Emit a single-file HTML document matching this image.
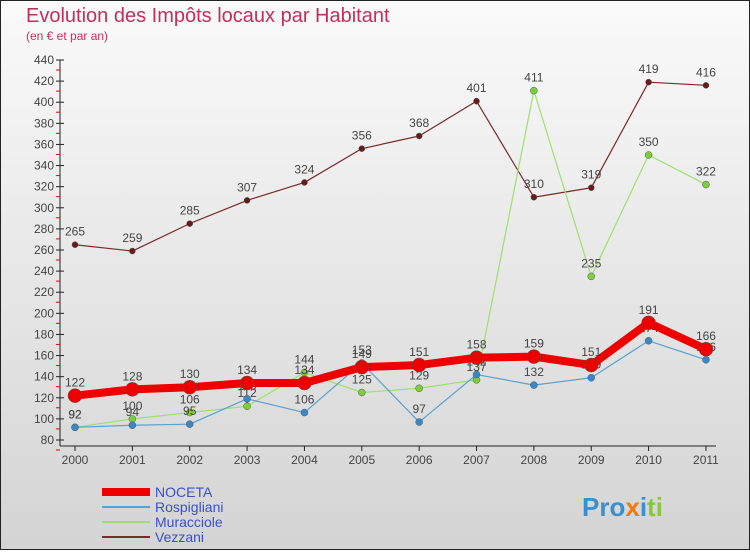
<!DOCTYPE html>
<html><head><meta charset="utf-8"><style>
body{margin:0;width:750px;height:550px;overflow:hidden;font-family:"Liberation Sans",sans-serif}
</style></head><body>
<svg width="750" height="550" xmlns="http://www.w3.org/2000/svg">
<defs><linearGradient id="bg" x1="0" y1="0" x2="0" y2="1"><stop offset="0" stop-color="#fafafa"/><stop offset="1" stop-color="#d4d4d4"/></linearGradient></defs>
<rect x="0.5" y="0.5" width="749" height="549" fill="url(#bg)" stroke="#222"/>
<text x="26" y="22" font-size="20" fill="#c0305a">Evolution des Impôts locaux par Habitant</text>
<text x="26" y="40" font-size="12" fill="#c0305a">(en € et par an)</text>
<g id="axes"></g><g id="series"></g><g id="legend"></g>
<text x="582" y="516" font-size="26" font-weight="bold"><tspan fill="#3a8fd0">Pro</tspan><tspan fill="#f07a10">x</tspan><tspan fill="#3a8fd0">i</tspan><tspan fill="#8cc63f">ti</tspan></text>
</svg>
<script>
const years=["2000","2001","2002","2003","2004","2005","2006","2007","2008","2009","2010","2011"];
const yTicks=[80,100,120,140,160,180,200,220,240,260,280,300,320,340,360,380,400,420,440];
const noceta=[122,128,130,134,134,149,151,158,159,151,191,166];
const rospigliani=[92,94,95,119,106,153,97,142,132,139,174,156];
const muracciole=[92,100,106,112,144,125,129,137,411,235,350,322];
const vezzani=[265,259,285,307,324,356,368,401,310,319,419,416];
const NS="http://www.w3.org/2000/svg";
const x=i=>75+i*57.36, y=v=>440-(v-80)*380/360;
function mk(t,a,p){const e=document.createElementNS(NS,t);for(const k in a)e.setAttribute(k,a[k]);p.appendChild(e);return e;}
const ax=document.getElementById('axes');
const yl=mk('line',{x1:60,y1:60,x2:60,y2:446,stroke:'#222'},ax);


const xl=mk('line',{x1:60,y1:446,x2:716,y2:446,stroke:'#222'},ax);


yTicks.forEach(v=>{mk('line',{x1:56,y1:y(v),x2:64,y2:y(v),stroke:'#222'},ax);
mk('line',{x1:56,y1:y(v)+10,x2:60,y2:y(v)+10,stroke:'#e00'},ax);
const t=mk('text',{x:54,y:y(v)+4,'font-size':12,'text-anchor':'end',fill:'#444'},ax);t.textContent=v;

});
years.forEach((yr,i)=>{mk('line',{x1:x(i),y1:446,x2:x(i),y2:451,stroke:'#222'},ax);
const t=mk('text',{x:x(i),y:464,'font-size':12,'text-anchor':'middle',fill:'#444'},ax);t.textContent=yr;

});
const sg=document.getElementById('series');
function draw(d,col,w,r,name,dot){const g=mk('g',{},sg);


mk('polyline',{points:d.map((v,i)=>x(i)+','+y(v)).join(' '),fill:'none',stroke:col,'stroke-width':w,'stroke-linejoin':'round'},g);
d.forEach((v,i)=>{const c=mk('circle',{cx:x(i),cy:y(v),r:r,fill:dot,stroke:'#555','stroke-width':0.5},g);


const t=mk('text',{x:x(i),y:y(v)-9,'font-size':12,'text-anchor':'middle',fill:'#444'},g);t.textContent=v;

});}
draw(vezzani,'#7a2a2a',1.2,3,'vezzani','#6a1a1a');
draw(muracciole,'#9ee070',1.2,3.5,'muracciole','#7ccf3a');
draw(rospigliani,'#5aa0d0',1.2,3.5,'rospigliani','#3a88c8');
draw(noceta,'#ee0000',8,7,'noceta','#ee0000');
const lg=document.getElementById('legend');
[['NOCETA','#ee0000',8],['Rospigliani','#5aa0d0',2],['Muracciole','#9ee070',2],['Vezzani','#7a2a2a',2]].forEach((s,i)=>{
const yy=492+i*15;const g=mk('g',{},lg);


mk('line',{x1:102,y1:yy,x2:150,y2:yy,stroke:s[1],'stroke-width':s[2]},g);
const t=mk('text',{x:155,y:yy+5,'font-size':14,fill:'#3a50c8'},g);t.textContent=s[0];});
</script>
</body></html>
